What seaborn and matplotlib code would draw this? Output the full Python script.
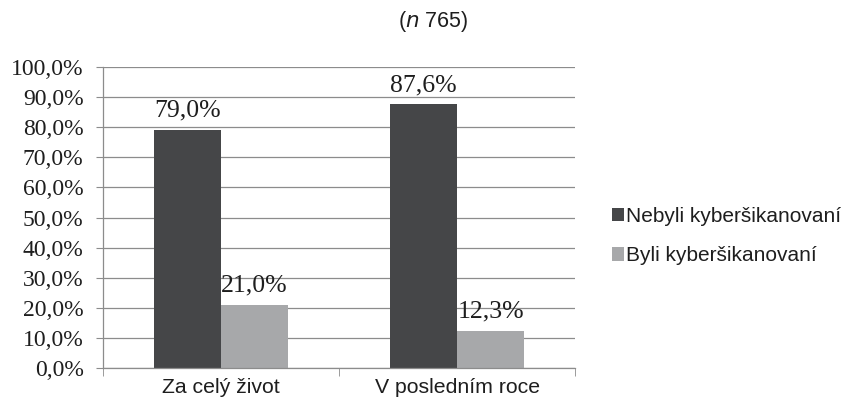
import pandas as pd
import matplotlib.pyplot as plt
import matplotlib.ticker as mtick
import seaborn as sns

periods = ["Za celý život", "V posledním roce"]
groups = ["Nebyli kyberšikanovaní", "Byli kyberšikanovaní"]
not_bullied = [79.0, 87.6]
bullied = [21.0, 12.3]
yticks = [0, 10, 20, 30, 40, 50, 60, 70, 80, 90, 100]

DARK = "#454648"
LIGHT = "#a7a8aa"
GRID = "#8c8c8c"
TEXT = "#1e1e1e"

df = pd.DataFrame({
    "period": periods * 2,
    "group": [groups[0]] * 2 + [groups[1]] * 2,
    "value": not_bullied + bullied,
})

sns.set_style("white")
plt.rcParams["font.family"] = ["Liberation Sans", "DejaVu Sans"]

fig = plt.figure(figsize=(8.47, 4.0), dpi=100)
ax = fig.add_axes([0.1216, 0.08, 0.679 - 0.1216, 0.8325 - 0.08])

sns.barplot(data=df, x="period", y="value", hue="group", order=periods,
            hue_order=groups, palette=[DARK, LIGHT], width=0.567,
            saturation=1, ax=ax, edgecolor="none")

for cont in ax.containers:
    ax.bar_label(cont, labels=[f"{v:.1f}".replace(".", ",") + "%" for v in cont.datavalues],
                 padding=6, fontsize=18.5, family="Liberation Serif", color=TEXT)

ax.set_ylim(0, 100)
ax.set_xlim(-0.5, 1.5)
ax.set_yticks(yticks)
ax.yaxis.set_major_formatter(mtick.FuncFormatter(lambda v, _: f"{v:.1f}".replace(".", ",") + "%"))
for lab in ax.get_yticklabels():
    lab.set_family("Liberation Serif")
ax.tick_params(axis="y", labelsize=17, length=5, color=GRID, direction="out",
               left=True, pad=9, labelcolor=TEXT)
ax.grid(axis="y", color=GRID, linewidth=0.9)
ax.set_axisbelow(True)

ax.set_xticks([0, 1])
ax.set_xticklabels(periods)
ax.set_xticks([-0.5, 0.5, 1.5], minor=True)
ax.tick_params(axis="x", which="major", length=0, labelsize=15.3, pad=7, labelcolor=TEXT)
ax.tick_params(axis="x", which="minor", length=6, color=GRID, direction="out", bottom=True)

ax.set_xlabel("")
ax.set_ylabel("")
for side in ["top", "right"]:
    ax.spines[side].set_visible(False)
for side in ["left", "bottom"]:
    ax.spines[side].set_color(GRID)
    ax.spines[side].set_linewidth(0.9)

ax.legend(loc="center left", bbox_to_anchor=(0.71, 0.41), bbox_transform=fig.transFigure,
          frameon=False, fontsize=15, handlelength=0.6, handleheight=0.6,
          handletextpad=0.1, labelspacing=1.0, labelcolor=TEXT, borderpad=0)

fig.text(0.512, 0.945, r"($\it{n}$ 765)", ha="center", va="center", fontsize=15.5, color=TEXT)

fig.savefig("out.png", dpi=100)
